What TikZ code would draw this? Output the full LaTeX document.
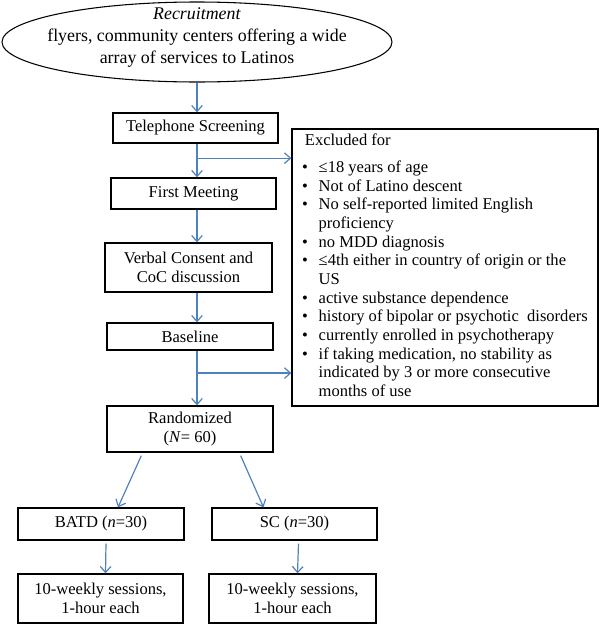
\documentclass[tikz,border=0pt]{standalone}
\usepackage{fontspec}
\setmainfont{Liberation Serif}
\usetikzlibrary{positioning,calc,arrows.meta,shapes.geometric}
\definecolor{flowblue}{RGB}{79,129,189}
\tikzset{
  recruit/.style  = {ellipse,draw,line width=0.8pt,inner sep=0pt,
                     minimum width=390*0.75pt,minimum height=80*0.75pt},
  stagebox/.style 2 args = {draw,line width=1pt,inner sep=0pt,align=center,
                     font=\fontsize{12.4}{14}\selectfont,
                     minimum width=#1*0.75pt,minimum height=#2*0.75pt},
  arr/.style      = {draw=flowblue,line width=0.9pt,
                     -{Straight Barb[length=4.5pt,width=8pt]}}
}
\begin{document}
\begin{tikzpicture}[x=0.75pt,y=-0.75pt]
    \useasboundingbox (0,0) rectangle (600,625);

    % recruitment source
    \node[recruit] (el) at (197,42) {};
    \node[align=center,inner sep=0pt,font=\fontsize{13.4}{16.5}\selectfont]
      (eltext) at (197,38)
      {\textit{Recruitment}\\flyers, community centers offering a wide\\array of services to Latinos};

    % main column
    \node[stagebox={165}{30}] (tel)    at (195.5,128)   {Telephone Screening};
    \node[stagebox={165}{31}] (first)  at (193.5,193.5) {First Meeting};
    \node[stagebox={167}{49}] (verbal) at (188.5,267.5) {Verbal Consent and\\CoC discussion};
    \node[stagebox={166}{27}] (base)   at (190,336.5)   {Baseline};
    \node[stagebox={166}{46}] (rand)   at (190,429)     {Randomized\\(\textit{N}= 60)};

    % exclusion criteria
    \node[stagebox={306}{277}] (excl) at (445,267.5) {%
      \begin{tabular}{@{}l@{\hspace{8pt}}l@{}}
        \multicolumn{2}{@{\hspace{2pt}}l@{}}{Excluded for}\\[6pt]
        \textbullet & ≤18 years of age\\
        \textbullet & Not of Latino descent\\
        \textbullet & No self-reported limited English\\
                    & proficiency\\
        \textbullet & no MDD diagnosis\\
        \textbullet & ≤4th either in country of origin or the\\
                    & US\\
        \textbullet & active substance dependence\\
        \textbullet & history of bipolar or psychotic\ \ disorders\\
        \textbullet & currently enrolled in psychotherapy\\
        \textbullet & if taking medication, no stability as\\
                    & indicated by 3 or more consecutive\\
                    & months of use
      \end{tabular}};

    % the two arms
    \node[stagebox={166}{32}] (batd)  at (101,524)     {BATD (\textit{n}=30)};
    \node[stagebox={165}{32}] (sc)    at (294.5,524)   {SC (\textit{n}=30)};
    \node[stagebox={165}{49}] (batdw) at (100.5,598.5) {10-weekly sessions,\\1-hour each};
    \node[stagebox={167}{49}] (scw)   at (292.5,598.5) {10-weekly sessions,\\1-hour each};

    % arrows down the column
    \draw[arr] (el.south) -- (el.south |- tel.north);
    \draw[arr] (el.south |- tel.south) -- (el.south |- first.north);
    \draw[arr] (el.south |- first.south) -- (el.south |- verbal.north);
    \draw[arr] (el.south |- verbal.south) -- (el.south |- base.north);
    \draw[arr] (el.south |- base.south) -- (el.south |- rand.north);

    % branches to the exclusion box
    \coordinate (cut1) at ($(el.south |- tel.south)!0.43!(el.south |- first.north)$);
    \coordinate (cut2) at ($(el.south |- base.south)!0.41!(el.south |- rand.north)$);
    \draw[arr] (cut1) -- (cut1 -| excl.west);
    \draw[arr] (cut2) -- (cut2 -| excl.west);

    % randomization
    \draw[arr] ($(rand.south west)+(35,3)$) -- ($(batd.north)+(17,0)$);
    \draw[arr] ($(rand.south east)+(-33,3)$) -- ($(sc.north)+(-31,0)$);
    \draw[arr] ($(batd.south)+(5,3)$) -- ($(batdw.north)+(5,0)$);
    \draw[arr] ($(sc.south)+(4,3)$) -- ($(scw.north)+(5,0)$);
\end{tikzpicture}
\end{document}
